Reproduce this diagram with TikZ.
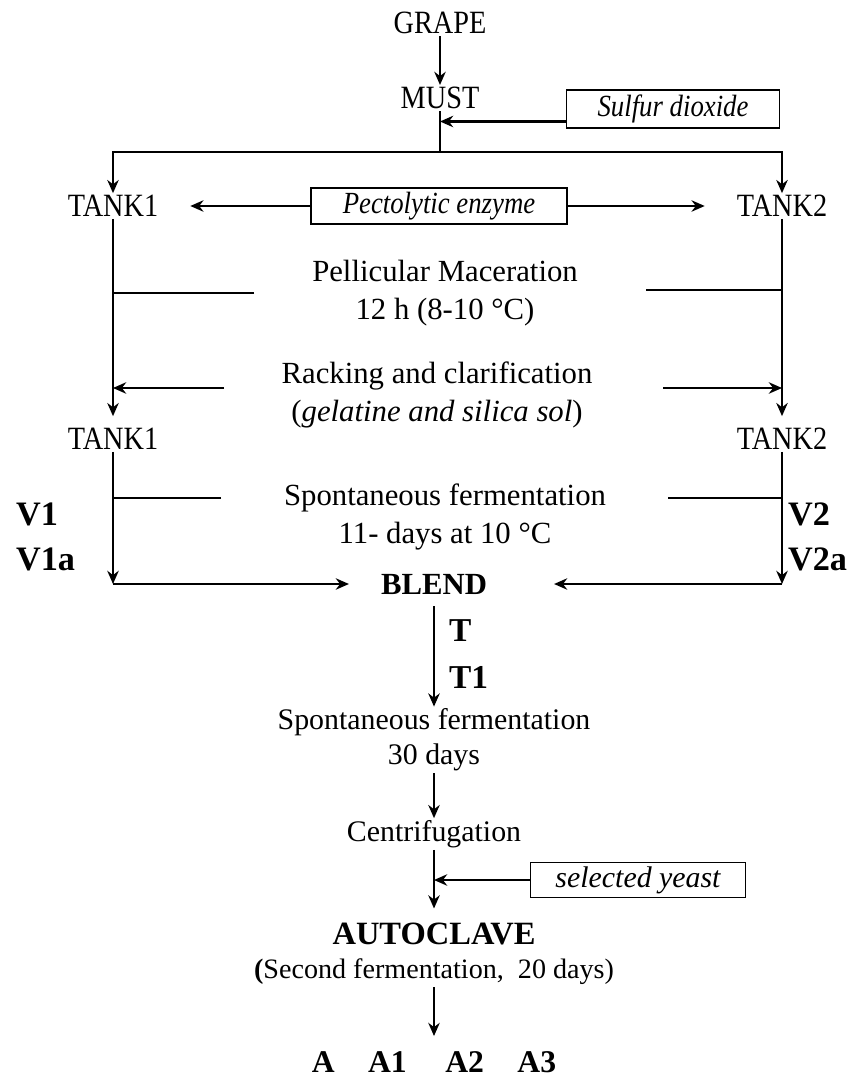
\documentclass[tikz,border=0pt]{standalone}
\usepackage{fontspec}
\setmainfont{Liberation Serif}
\newfontfamily\narrowfont[FakeStretch=0.87]{Liberation Serif}
\usepackage{tikz}
\usetikzlibrary{arrows.meta, positioning, calc}

\tikzset{
  flow/.style={line width=1.4pt},
  tank/.style={font=\narrowfont\fontsize{18.5}{21}\selectfont, inner sep=1pt},
  stage/.style={font=\fontsize{17.5}{21.5}\selectfont, align=center, inner sep=1pt},
  addbox/.style={draw, line width=1.1pt, font=\narrowfont\itshape\fontsize{17.5}{20}\selectfont, inner sep=0pt},
  code/.style={font=\bfseries\fontsize{19.5}{24}\selectfont, inner sep=1pt, anchor=west},
  bold/.style={font=\bfseries\fontsize{17.5}{20}\selectfont, inner sep=1pt}
}

\begin{document}
\begin{tikzpicture}[>={Stealth[length=7.5pt,width=6.5pt]}, x=0.02cm, y=-0.02cm]
  \useasboundingbox (0,0) rectangle (851,1081);

  % Must
  \node[tank] (grape) at (440,23) {GRAPE};
  \node[tank] (must) at (440,98) {MUST};
  \node[addbox, minimum width=4.26cm, minimum height=0.76cm] (so2) at (673,109) {Sulfur dioxide};
  \coordinate (split) at (440,152);
  \draw[flow,->] (grape) -- (must);
  \draw[flow] (must) -- (split);
  \draw[flow,->] ([yshift=-0.25cm]so2.west) -- ([yshift=-0.25cm]so2.west -| must);

  % Tanks
  \node[tank] (tank1a) at (113,206) {TANK1};
  \node[tank] (tank2a) at (782,206) {TANK2};
  \node[addbox, minimum width=5.12cm, minimum height=0.72cm] (pect) at (439,206) {Pectolytic enzyme};
  \draw[flow,->] (split) -| (tank1a);
  \draw[flow,->] (split) -| (tank2a);
  \draw[flow,->, shorten >=0.6cm] (pect) -- (tank1a);
  \draw[flow,->, shorten >=0.6cm] (pect) -- (tank2a);

  \node[tank] (tank1b) at (113,439) {TANK1};
  \node[tank] (tank2b) at (782,439) {TANK2};
  \draw[flow,->, shorten >=0.2cm] (tank1a) -- (tank1b);
  \draw[flow,->, shorten >=0.2cm] (tank2a) -- (tank2b);

  % Maceration and racking
  \node[stage] (mac) at (445,293) {Pellicular Maceration\\12 h (8-10 °C)};
  \coordinate (macL) at (254,293);
  \coordinate (macR) at (646,290);
  \draw[flow] (macL) -- (macL -| tank1a);
  \draw[flow] (macR) -- (macR -| tank2a);

  \node[stage] (rack) at (437,395) {Racking and clarification\\(\textit{gelatine and silica sol})};
  \coordinate (rackL) at (224,388);
  \coordinate (rackR) at (663,388);
  \draw[flow,->] (rackL) -- (rackL -| tank1a);
  \draw[flow,->] (rackR) -- (rackR -| tank2a);

  % First fermentation
  \node[stage] (ferm) at (445,517) {Spontaneous fermentation\\11- days at 10 °C};
  \coordinate (fermL) at (221,498);
  \coordinate (fermR) at (668,498);
  \draw[flow] (fermL) -- (fermL -| tank1b);
  \draw[flow] (fermR) -- (fermR -| tank2b);
  \node[code] (v1) at (14,514) {V1};
  \node[code] (v1a) at (14,559) {V1a};
  \node[code] (v2) at (786,514) {V2};
  \node[code] (v2a) at (786,559) {V2a};

  % Blend
  \node[bold] (blend) at (434,584) {BLEND};
  \coordinate (turnL) at (tank1b |- blend);
  \coordinate (turnR) at (tank2b |- blend);
  \draw[flow,->] (tank1b) -- (turnL);
  \draw[flow,->] (tank2b) -- (turnR);
  \draw[flow,->, shorten >=0.6cm] (turnL) -- (blend);
  \draw[flow,->, shorten >=1.3cm] (turnR) -- (blend);

  % Second stage
  \node[stage, font=\fontsize{17}{20}\selectfont] (ferm2) at (434,740) {Spontaneous fermentation\\30 days};
  \node[bold, font=\bfseries\fontsize{19}{22}\selectfont, anchor=west] (t) at (447,631) {T};
  \node[bold, font=\bfseries\fontsize{19}{22}\selectfont, anchor=west] (t1) at (447,677) {T1};
  \draw[flow,->, shorten <=0.2cm] (blend) -- (ferm2);

  \node[stage, font=\fontsize{17}{20}\selectfont] (centri) at (434,834) {Centrifugation};
  \draw[flow,->] (ferm2) -- (centri);

  \node[addbox, font=\itshape\fontsize{17}{20}\selectfont, minimum width=4.3cm, minimum height=0.7cm] (yeast) at (638,880) {selected yeast};
  \node[stage, font=\fontsize{16}{19.5}\selectfont] (auto) at (434,954) {{\fontsize{18.5}{19.5}\selectfont\bfseries AUTOCLAVE}\\\textbf{(}Second fermentation,\ \ 20 days)};
  \draw[flow,->, shorten >=0.25cm] (centri) -- (auto);
  \draw[flow,->] (yeast) -- (yeast -| centri);

  % Final wines
  \node[bold, font=\bfseries\fontsize{18}{20}\selectfont, inner sep=0pt] (final) at (434,1062) {A\hspace{19pt}A1\hspace{22pt}A2\hspace{19pt}A3};
  \draw[flow,->, shorten >=0.3cm] (auto) -- (final);
\end{tikzpicture}
\end{document}
